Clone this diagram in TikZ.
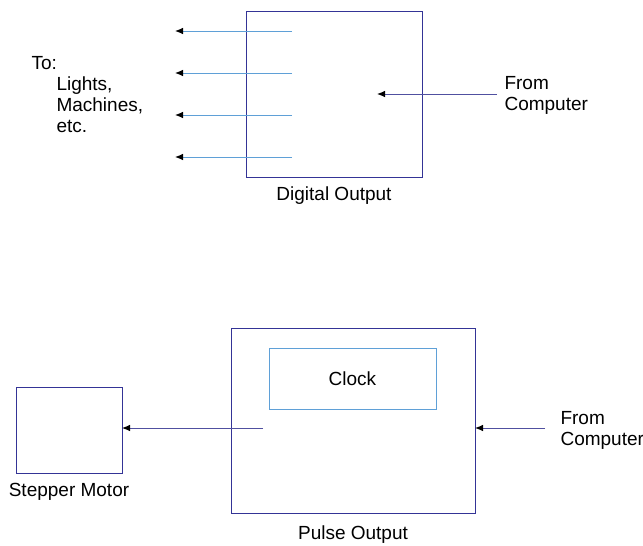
\documentclass[tikz,border=0pt]{standalone}
\usepackage{fontspec}
\setmainfont{Liberation Sans}
\usetikzlibrary{arrows.meta, positioning}
\definecolor{boxblue}{RGB}{52,52,150}
\definecolor{lineblue}{RGB}{95,160,215}
\definecolor{wireblue}{RGB}{80,80,160}

\begin{document}
\begin{tikzpicture}[x=1pt,y=-1pt,font=\fontsize{19}{21}\selectfont,
	unit/.style={draw=boxblue,line width=1pt,inner sep=0pt,outer sep=0pt},
	tip/.style={-{Latex[black,length=8pt,width=6.5pt]}},
	out line/.style={tip,draw=lineblue,line width=0.9pt},
	in line/.style={tip,draw=wireblue,line width=0.9pt}]
		\useasboundingbox (0,0) rectangle (643,546);
		% digital output
		\node[unit,minimum width=176pt,minimum height=166pt] (D) at (334,94) {};
		\node (D-lab) at (334,196) {Digital Output};
		\foreach \Y [count=\N] in {31,73,115,157}
		{\coordinate (D-in-\N) at (292,\Y);
			\coordinate (D-out-\N) at (175,\Y);
			\draw[out line] (D-in-\N) -- (D-out-\N);}
		\coordinate (D-src) at (497,94);
		\coordinate (D-dst) at (377,94);
		\draw[in line] (D-src) -- (D-dst);
		\node[align=left,anchor=west] (D-comp) at (501,95) {From\\Computer};
		\node[anchor=west] (to) at (28,63) {To:};
		\node[align=left,anchor=west] (loads) at (53,105) {Lights,\\Machines,\\etc.};
		% pulse output
		\node[unit,minimum width=244pt,minimum height=185pt] (P) at (353,420.5) {};
		\node[draw=lineblue,line width=1pt,inner sep=0pt,minimum width=167pt,minimum height=61pt] (clock) at (352.5,378.5) {Clock};
		\node (P-lab) at (353,535) {Pulse Output};
		\node[unit,minimum width=106pt,minimum height=86pt] (motor) at (69,430) {};
		\node (motor-lab) at (69,492) {Stepper Motor};
		\coordinate (P-pin) at (263,428);
		\draw[in line] (P-pin) -- (motor.east |- P-pin);
		\coordinate (P-src) at (545,428);
		\draw[in line] (P-src) -- (P.east |- P-src);
		\node[align=left,anchor=west] (P-comp) at (557,430) {From\\Computer};
		\end{tikzpicture}
\end{document}
